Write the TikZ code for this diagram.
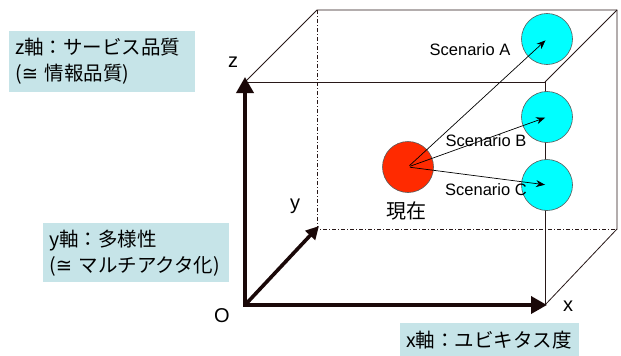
\documentclass[tikz,border=0pt]{standalone}
\usepackage{fontspec}
\setmainfont{Liberation Sans}
\newfontfamily\jpfont{Noto Sans CJK JP}
\newfontfamily\symfont{DejaVu Sans}
\usepackage{xcolor}
\usetikzlibrary{arrows.meta,positioning}

\definecolor{boxblue}{RGB}{198,228,232}
\definecolor{axiscol}{RGB}{26,8,8}
\definecolor{edgecol}{RGB}{40,24,24}
\definecolor{nowred}{RGB}{255,42,0}
\definecolor{sccyan}{RGB}{0,255,255}

\begin{document}
\begin{tikzpicture}[
    x=1pt, y=-1pt,
    axis/.style={line width=3.6pt, color=axiscol, -{Triangle[length=16pt,width=17pt]}},
    edge/.style={line width=0.8pt, color=edgecol},
    hidden/.style={edge, dash pattern=on 4pt off 2pt on 1pt off 2pt},
    ball/.style={circle, draw=black!65, line width=0.6pt, minimum size=51pt, inner sep=0pt},
    arrow/.style={-{Stealth[length=9pt,width=7pt]}, line width=0.7pt, shorten <=2pt, shorten >=2pt},
    axislbl/.style={font=\fontsize{20}{24}\selectfont, inner sep=0pt},
    sclbl/.style={font=\fontsize{16.5}{20}\selectfont, inner sep=0pt},
    axisbox/.style={fill=boxblue, anchor=north west, align=left, inner xsep=6pt, inner ysep=0pt, font=\jpfont\fontsize{19.5}{26}\selectfont}
]
    \useasboundingbox (0,0) rectangle (621,356);

    % corners of the cube
    \coordinate (O) at (245,305);
    \coordinate (ftl) at (245,82);
    \coordinate (ftr) at (545,82);
    \coordinate (fbr) at (545,305);
    \coordinate (btl) at (317,10);
    \coordinate (btr) at (617,10);
    \coordinate (bbr) at (617,229);
    \coordinate (bbl) at (317,229);
    \coordinate (ztip) at (245,77);
    \coordinate (xtip) at (547,305);
    \coordinate (ytip) at (319,226);

    \draw[edge] (ftl) -- (ftr) -- (fbr);
    \draw[edge] (ftl) -- (btl) -- (btr) -- (bbr) -- (fbr);
    \draw[edge] (btr) -- (ftr);
    \draw[hidden] (btl) -- (bbl) -- (bbr);

    \draw[axis, line cap=rect] (O) -- (ztip);
    \draw[axis, line cap=rect] (O) -- (xtip);
    \draw[axis, -{Triangle[length=13pt,width=13pt]}] (O) -- (ytip);

    \node[ball, fill=nowred] (now) at (408,167) {};
    \node[ball, fill=sccyan] (scA) at (547,39) {};
    \node[ball, fill=sccyan] (scB) at (547,117) {};
    \node[ball, fill=sccyan] (scC) at (547,185) {};

    \draw[arrow] (now.center) -- (scA.center);
    \draw[arrow] (now.center) -- (scB.center);
    \draw[arrow] (now.center) -- (scC.center);

    \node[sclbl] (lblA) at (470,50) {Scenario A};
    \node[sclbl] (lblB) at (486,141) {Scenario B};
    \node[sclbl] (lblC) at (486,190) {Scenario C};
    \node[font=\jpfont\fontsize{20}{24}\selectfont, inner sep=0pt] (nowlbl) at (406,211) {現在};

    \node[axislbl] (zlbl) at (233,62) {z};
    \node[axislbl] (ylbl) at (295,206) {y};
    \node[axislbl] (olbl) at (222,316) {O};
    \node[axislbl] (xlbl) at (568,306) {x};

    % axis boxes
    \node[axisbox, minimum width=186pt, minimum height=61pt, text width=174pt] (zbox) at (9,31)
        {z軸：サービス品質\\({\symfont ≅} 情報品質)};
    \node[axisbox, minimum width=186pt, minimum height=59pt, text width=174pt] (ybox) at (43,223)
        {y軸：多様性\\({\symfont ≅} マルチアクタ化)};
    \node[axisbox, minimum width=179pt, minimum height=33pt, text width=167pt] (xbox) at (400,323)
        {x軸：ユビキタス度};
\end{tikzpicture}
\end{document}
